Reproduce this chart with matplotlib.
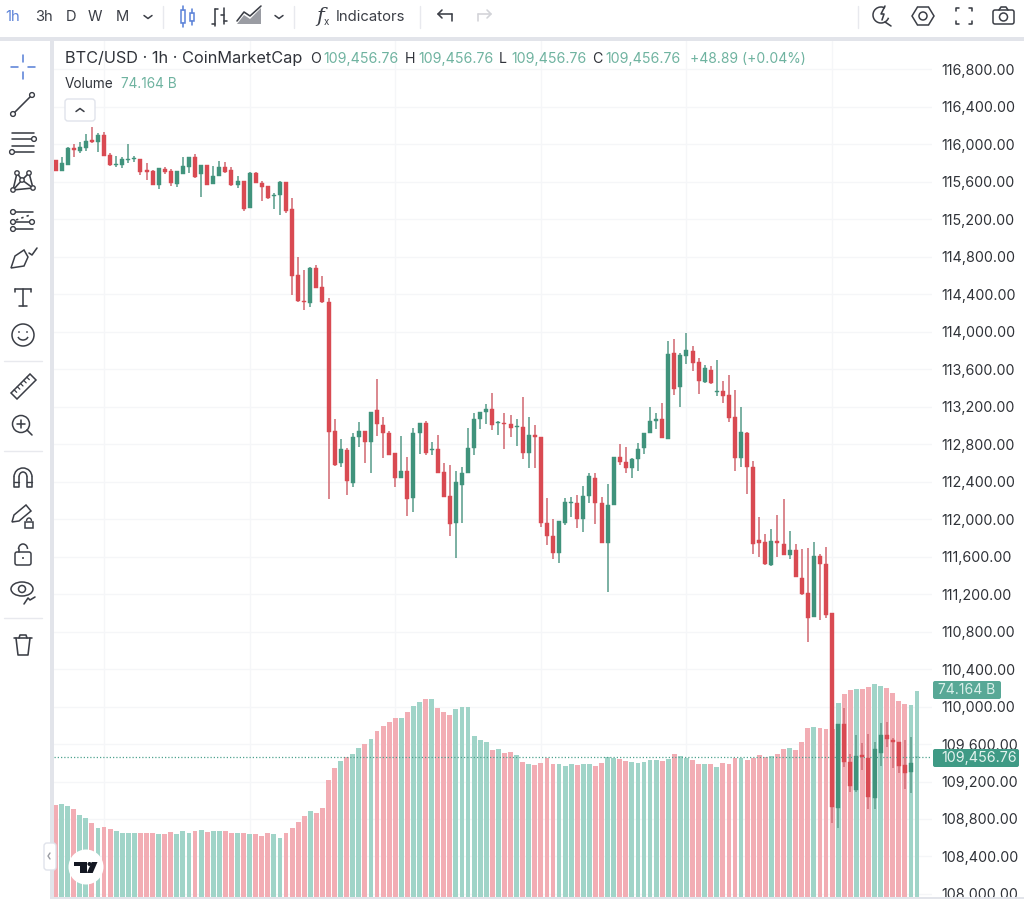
import numpy as np
import matplotlib
matplotlib.use('Agg')
from matplotlib import pyplot as plt
from matplotlib.patches import Circle, Ellipse, Polygon, FancyBboxPatch, Rectangle, Arc
from matplotlib.transforms import Affine2D, blended_transform_factory

plt.rcParams['font.family'] = ['Inter', 'DejaVu Sans']

# candles (1h bars)
opens = [115830,115716,115776,115954,115929,115954,116043,116025,116096,115883,
         115773,115776,115830,115840,115840,115723,115712,115566,115737,115709,
         115577,115684,115751,115865,115680,115776,115574,115659,115758,115719,
         115559,115602,115321,115694,115588,115556,115442,115460,115595,115303,
         114603,114329,114308,114677,114471,114315,112935,112594,112736,112381,
         112871,112939,112821,113163,113006,112914,112701,112437,112509,112228,
         112921,113024,112740,112750,112505,112242,111954,112359,112491,112757,
         113067,113142,113170,113024,113028,113014,112978,112985,112701,112900,
         112875,111961,111819,111641,111954,112171,112171,111997,112245,112437,
         112174,111748,112149,112665,112612,112541,112637,112754,112914,113046,
         113063,112850,113767,113412,113743,113796,113671,113465,113593,113355,
         113366,113319,113085,112647,112921,112555,111780,111755,111509,111769,
         111737,111612,111673,111371,111207,110958,111605,111520,111001,108921,
         109810,109404,109109,109479,109450,109020,109507,109696,109642,109621,
         109372,109305,109456.76]
highs = [115830,115858,115965,115997,116018,116107,116185,116121,116128,115901,
         115872,115858,115997,115872,115840,115794,115723,115741,115758,115730,
         115709,115858,115865,115894,115776,115776,115769,115819,115812,115751,
         115662,115602,115705,115702,115602,115556,115474,115609,115595,115421,
         114791,114656,114685,114706,114592,114354,113063,112850,112754,112914,
         113038,112939,113142,113497,113092,112942,112701,112885,112658,112967,
         113024,113049,112818,112896,112594,112573,112516,112551,112967,113134,
         113142,113227,113341,113046,113127,113113,113063,113298,113092,113003,
         112875,112221,111997,111975,112221,112231,112260,112356,112494,112494,
         112231,112370,112665,112797,112765,112647,112807,112914,113191,113127,
         113234,113895,113917,113767,113981,113846,113714,113643,113632,113696,
         113472,113533,113380,113191,112928,112622,112018,111840,111893,112043,
         112210,111868,111730,111676,111694,111758,111623,111705,111001,109813,
         109980,109493,109696,109607,109706,109625,109820,109831,109660,109621,
         109642,109671,109456.76]
lows = [115716,115716,115776,115858,115901,115929,116015,115918,115876,115769,
        115751,115748,115794,115805,115670,115616,115559,115517,115677,115552,
        115545,115684,115687,115634,115431,115559,115574,115659,115687,115552,
        115534,115289,115321,115584,115392,115414,115307,115243,115261,114389,
        114315,114229,114265,114461,114308,112210,112569,112551,112256,112345,
        112765,112594,112494,112885,112647,112679,112345,112437,112032,112078,
        112693,112683,112683,112487,112235,111822,111580,111961,112491,112686,
        112960,113014,112949,112896,112747,112878,112779,112637,112541,112541,
        111911,111723,111577,111527,111932,112025,111901,111858,112174,111947,
        111741,111225,112149,112576,112487,112437,112509,112690,112914,112957,
        112861,112850,113326,113198,113654,113582,113334,113454,113440,113312,
        113241,113038,112512,112555,112267,111627,111598,111509,111502,111598,
        111612,111570,111381,111193,110691,110951,110923,110947,108761,108704,
        109358,109091,109091,109322,108903,108903,109369,109564,109347,109287,
        109120,109074,109456.76]
closes = [115716,115794,115954,115936,115965,116036,116022,116093,115876,115776,
          115787,115837,115844,115851,115705,115705,115566,115741,115698,115581,
          115709,115769,115865,115652,115776,115566,115662,115758,115705,115566,
          115606,115307,115687,115584,115542,115424,115456,115595,115286,114592,
          114322,114315,114674,114468,114315,112928,112576,112747,112402,112878,
          112942,112821,113142,113014,112914,112686,112437,112509,112213,112914,
          113024,112708,112750,112494,112235,111950,112391,112491,112754,113067,
          113142,113170,113006,113035,113017,112974,112989,112708,112896,112875,
          111954,111815,111641,111975,112185,112181,112000,112242,112459,112174,
          111744,112146,112665,112605,112548,112637,112743,112914,113042,113067,
          112868,113764,113383,113753,113799,113661,113469,113614,113451,113362,
          113312,113077,112647,112928,112555,111737,111748,111516,111765,111748,
          111620,111669,111381,111200,110944,111605,111516,110980,108931,109813,
          109408,109152,109472,109465,109038,109546,109696,109650,109621,109369,
          109294,109394,109456.76]
# volume, billions
volumes = [33.2,33.4,32.9,31.8,29.5,28.6,26.6,25.0,25.2,24.5,
           23.8,23.0,23.0,23.2,23.0,23.0,23.0,22.7,22.7,23.5,
           22.8,23.8,22.9,23.6,24.1,23.3,23.8,23.8,23.8,22.9,
           23.0,23.0,22.6,22.6,22.0,22.9,22.7,21.2,22.9,25.0,
           27.1,29.3,31.0,30.2,32.0,42.2,46.4,49.0,50.3,51.4,
           53.5,55.1,56.9,59.8,61.4,63.0,64.6,64.6,66.5,68.9,
           70.1,71.3,71.3,68.0,66.6,65.4,67.7,68.3,68.3,57.8,
           56.5,55.8,53.0,53.3,52.0,52.3,51.1,48.7,47.9,47.6,
           48.4,50.0,48.0,47.8,47.3,48.0,47.5,47.8,47.8,47.3,
           48.1,50.4,50.2,49.8,49.1,48.5,48.1,48.7,49.4,49.4,
           49.0,49.8,51.5,50.8,50.2,49.2,47.8,47.8,47.8,46.9,
           48.4,47.8,50.0,50.2,49.2,50.2,51.2,50.3,50.9,51.5,
           53.3,53.6,52.9,55.7,60.8,61.1,61.0,60.5,60.4,70.0,
           73.0,74.5,75.0,74.9,75.7,76.8,76.1,75.2,73.6,70.7,
           69.5,69.0,74.164]
price_ticks = np.arange(108000, 116801, 400)
day_bars = [8, 32, 56, 80, 104, 128]
last_price = 109456.76

RED, GREEN = '#d94a52', '#40937c'
RED_W, GREEN_W = '#d4737c', '#64a392'
RED_V, GREEN_V = '#f2adb4', '#a0d4c8'
GRID = '#f5f6f8'
INK = '#3b3e46'
BAND = '#e2e4ea'
LEG_G = '#6fb3a0'

fig = plt.figure(figsize=(10.24, 8.99), dpi=100)
W, H = 1024, 899
# chart area in pixels: x 54..932, y 41..897
ax = fig.add_axes([54 / W, (H - 897) / H, (932 - 54) / W, (897 - 41) / H])
ax.set_xlim((54 - 55.5) / 6.067, (932 - 55.5) / 6.067)
ax.set_ylim(108000 - 3 * 10.667, 116800 + 28 * 10.667)
for s in ax.spines.values():
    s.set_visible(False)

x = np.arange(len(opens))
o, h, l, c = map(np.array, (opens, highs, lows, closes))
up = c >= o

ax.set_yticks(price_ticks)
ax.set_yticklabels(['{:,.2f}'.format(p) for p in price_ticks], color='#2f3238', fontsize=10.3)
ax.yaxis.tick_right()
ax.tick_params(axis='y', length=0, pad=6.8)
ax.set_xticks(day_bars)
ax.tick_params(axis='x', length=0, labelbottom=False)
ax.grid(True, color=GRID, lw=1)
ax.set_axisbelow(True)

# volume sits in the same axes, with its own y scale
vol_top = 856 * 0.36
vol_trans = blended_transform_factory(ax.transData, Affine2D().scale(1, 1 / vol_top) + ax.transAxes)
ax.bar(x, volumes, width=0.8, color=[GREEN_V if u else RED_V for u in up], transform=vol_trans, zorder=1)

ax.axhline(last_price, color='#4fa28f', lw=0.9, ls=(0, (1, 1.6)), zorder=1.5)

ax.vlines(x, l, h, colors=[GREEN_W if u else RED_W for u in up], lw=1.2, zorder=2)
ax.bar(x, np.abs(c - o), bottom=np.minimum(o, c), width=0.66,
       color=[GREEN if u else RED for u in up], edgecolor=[GREEN if u else RED for u in up], lw=0.3, zorder=3)
ax.set_ylim(108000 - 3 * 10.667, 116800 + 28 * 10.667)

# overlay in pixel coordinates: toolbars, legend, price tags
ov = fig.add_axes([0, 0, 1, 1], zorder=5)
ov.set_xlim(0, W)
ov.set_ylim(H, 0)
ov.axis('off')
ov.patch.set_alpha(0)


def ln(xs, ys, col=INK, lw=1.15, **kw):
    ov.plot(xs, ys, color=col, lw=lw, solid_capstyle='round', solid_joinstyle='round', **kw)


def dot(cx, cy, r=2.4, col=INK, lw=1.0):
    ov.add_patch(Circle((cx, cy), r, fc='white', ec=col, lw=lw, zorder=6))


def chev(cx, cy, up_=False, col=INK):
    d = -3 if up_ else 3
    ln([cx - 4, cx, cx + 4], [cy - d / 2, cy + d / 2, cy - d / 2], col=col, lw=1.1)


# bands
ov.add_patch(Rectangle((0, 37), W, 4, fc=BAND, ec='none'))
ov.add_patch(Rectangle((50, 41), 4, H, fc=BAND, ec='none'))
ov.add_patch(Rectangle((54, 897), W, 2, fc=BAND, ec='none'))

# top toolbar
for t, tx, col in [('1h', 5, '#5b82d8'), ('3h', 35, INK), ('D', 66, INK), ('W', 88, INK), ('M', 116, INK)]:
    ov.text(tx, 17, t, color=col, fontsize=10.6, va='center', ha='left')
chev(148, 17)
for sx in [163, 294, 420, 858]:
    ln([sx, sx], [6, 28], col='#e8e9ee', lw=1)
# candle style icons
BLUE = '#5b82d8'
for cx, y0, y1, b0, b1 in [(183, 6, 27, 10, 23), (192, 9, 25, 13, 21)]:
    ln([cx, cx], [y0, b0], col=BLUE)
    ln([cx, cx], [b1, y1], col=BLUE)
    ov.add_patch(Rectangle((cx - 2, b0), 4, b1 - b0, fc='white', ec=BLUE, lw=1.1))
ln([215, 215], [9, 26])
ln([212, 215], [24, 24])
ln([215, 218], [9, 9])
ln([224, 224], [8, 24])
ln([221, 224], [15, 15])
ln([224, 227], [21, 21])
ov.add_patch(Polygon([(237, 24), (244, 15), (250, 19), (261, 8), (261, 24)], fc='#9a9ca3', ec='none'))
ln([237, 244, 250, 261], [21, 12, 16, 6], col=INK)
chev(279, 17)
ov.text(320, 16, 'f', color=INK, fontsize=15, style='italic', ha='center', va='center', family='DejaVu Serif')
ov.text(326, 22, 'x', color=INK, fontsize=7, ha='center', va='center')
ov.text(336, 17, 'Indicators', color=INK, fontsize=10.7, va='center', ha='left')
ln([438, 452], [14, 14])
ln([452, 452], [14, 21])
ln([442, 438, 442], [10, 14, 18])
ln([491, 478], [14, 14], col='#d2d3d8')
ln([478, 478], [14, 21], col='#d2d3d8')
ln([487, 491, 487], [10, 14, 18], col='#d2d3d8')
# right icons
ov.add_patch(Arc((881, 15), 16, 16, theta1=20, theta2=300, ec=INK, lw=1.1))
ln([885, 891], [22, 26])
ln([885, 881, 884, 882], [6, 14, 14, 20])
hexa = [(912, 16), (917.5, 7), (928.5, 7), (934, 16), (928.5, 25), (917.5, 25)]
ov.add_patch(Polygon(hexa, fc='none', ec=INK, lw=1.1))
dot(923, 16, 4, lw=1.1)
for sx, sy in [(-1, -1), (1, -1), (-1, 1), (1, 1)]:
    cx, cy = 964 + sx * 8, 16 + sy * 8
    ln([cx - sx * 3, cx, cx], [cy, cy, cy - sy * 3])
ov.add_patch(FancyBboxPatch((993, 10), 21, 14, boxstyle='round,pad=0,rounding_size=2', fc='white', ec=INK, lw=1.1))
ln([999, 1001, 1006, 1008], [10, 7, 7, 10])
dot(1003.5, 17, 4, lw=1.1)

# left toolbar
ln([23, 23], [55, 62], col=BLUE)
ln([23, 23], [72, 79], col=BLUE)
ln([11, 18], [67, 67], col=BLUE)
ln([28, 35], [67, 67], col=BLUE)
ln([13, 32], [114, 95])
dot(13, 114)
dot(32, 95)
ln([12, 34], [133, 133])
ln([12, 34], [139, 139])
dot(34, 139)
ln([12, 34], [146, 146])
ln([12, 34], [152, 152])
dot(12, 152)
pts = [(13, 190), (17, 173), (22, 180), (29, 173), (33, 188)]
ln([p[0] for p in pts] + [13], [p[1] for p in pts] + [190])
ln([22, 33], [180, 188])
ln([22, 13], [180, 190])
for p in pts:
    dot(p[0], p[1], 2.2)
ln([13, 33], [212, 212])
dot(13, 212)
ln([16, 30], [220, 215], ls=(0, (1.5, 2)))
ln([13, 32], [222, 222])
dot(13, 222)
dot(32, 222)
ln([13, 33], [229, 229])
dot(13, 229)
ov.add_patch(Polygon([(11, 268), (15, 256), (24, 250), (28, 257), (24, 266)], fc='white', ec=INK, lw=1.1))
ln([29, 32, 37], [253, 255, 248])
ln([15, 31], [289, 289])
ln([15, 15], [289, 292])
ln([31, 31], [289, 292])
ln([23, 23], [289, 306])
ln([19, 27], [306, 306])
ov.add_patch(Circle((23, 335), 11, fc='none', ec=INK, lw=1.1))
ov.add_patch(Circle((19, 332), 0.9, fc=INK, ec='none'))
ov.add_patch(Circle((27, 332), 0.9, fc=INK, ec='none'))
ov.add_patch(Arc((23, 336), 10, 8, theta1=10, theta2=170, ec=INK, lw=1.1))
for sy in [361, 451, 618]:
    ln([4, 42], [sy, sy], col='#e8e9ee', lw=1)
ov.add_patch(Polygon([(11, 393), (30, 374), (36, 380), (17, 399)], fc='none', ec=INK, lw=1.1))
for k in range(1, 6):
    bx, by = 11 + k * 19 / 6, 393 - k * 19 / 6
    ln([bx, bx + 2.5], [by, by + 2.5], lw=0.9)
ov.add_patch(Circle((21, 424), 8.5, fc='none', ec=INK, lw=1.1))
ln([17, 25], [424, 424])
ln([21, 21], [420, 428])
ln([27, 32], [430, 435])
# magnet, outline only
ov.add_patch(Arc((23, 477), 18, 18, theta1=180, theta2=360, ec=INK, lw=1.1))
ov.add_patch(Arc((23, 477), 8, 10, theta1=180, theta2=360, ec=INK, lw=1.1))
ln([14, 14, 19, 19], [477, 487, 487, 477])
ln([27, 27, 32, 32], [477, 487, 487, 477])
ln([14, 19], [482, 482], lw=1)
ln([27, 32], [482, 482], lw=1)
ov.add_patch(Polygon([(12, 522), (14, 515), (26, 505), (31, 511), (19, 521)], fc='none', ec=INK, lw=1.1))
ov.add_patch(Rectangle((25, 522), 8, 6, fc='white', ec=INK, lw=1.1))
ov.add_patch(Arc((29, 521), 5, 6, theta1=180, theta2=360, ec=INK, lw=1))
ov.add_patch(FancyBboxPatch((15, 552), 16, 13, boxstyle='round,pad=0,rounding_size=2', fc='none', ec=INK, lw=1.1))
ov.add_patch(Arc((23, 549), 9, 10, theta1=180, theta2=360, ec=INK, lw=1.1))
ln([18.5, 18.5], [549, 552])
ov.add_patch(Circle((23, 558), 1, fc=INK, ec='none'))
ov.add_patch(Ellipse((22, 589), 22, 14, fc='none', ec=INK, lw=1.1))
ov.add_patch(Circle((22, 589), 3.5, fc='none', ec=INK, lw=1.1))
ln([24, 28, 30, 35], [604, 598, 600, 597])
ln([14, 32], [638, 638])
ln([19, 20, 26, 27], [638, 635, 635, 638])
ln([16, 18, 28, 30], [638, 655, 655, 638])

# legend
ov.text(65, 59, 'BTC/USD · 1h · CoinMarketCap', color='#30333a', fontsize=11.75, va='center', ha='left')
for lab, lx in [('O', 310), ('H', 405), ('L', 499), ('C', 592)]:
    ov.text(lx, 59, lab, color='#30333a', fontsize=10.2, va='center', ha='left')
    ov.text(lx + (12 if lab == 'L' else 13), 59, '109,456.76', color=LEG_G, fontsize=10.2, va='center', ha='left')
ov.text(690, 59, '+48.89 (+0.04%)', color=LEG_G, fontsize=10, va='center', ha='left')
ov.text(65, 84, 'Volume', color='#30333a', fontsize=9.8, va='center', ha='left')
ov.text(121, 84, '74.164 B', color=LEG_G, fontsize=9.8, va='center', ha='left')
ov.add_patch(FancyBboxPatch((65, 99), 30, 22, boxstyle='round,pad=0,rounding_size=3', fc='white', ec='#e0e3eb', lw=1))
chev(80, 110, up_=True)

# price tags
ov.add_patch(FancyBboxPatch((933, 681), 68, 18, boxstyle='round,pad=0,rounding_size=2', fc='#58a896', ec='none'))
ov.text(967, 690, '74.164 B', color='#d9efe9', fontsize=10, ha='center', va='center')
ov.add_patch(FancyBboxPatch((933, 749), 86, 18, boxstyle='round,pad=0,rounding_size=2', fc='#3f9a85', ec='none'))
ov.text(979, 758, '{:,.2f}'.format(last_price), color='#e3f2ee', fontsize=10.3, ha='center', va='center')

# logo and collapse tab
ov.add_patch(FancyBboxPatch((44, 843), 12, 27, boxstyle='round,pad=0,rounding_size=3', fc='white', ec='#e0e3eb', lw=1))
ln([50, 48, 50], [853, 856, 859], col='#9a9ca3', lw=1)
ov.add_patch(Circle((86, 867), 17.5, fc='white', ec='none'))
ov.add_patch(Polygon([(74.3, 862), (86.7, 862), (86.7, 873), (80, 873), (80, 866.3), (74.3, 866.3)], fc='#131722', ec='none'))
ov.add_patch(Polygon([(91.7, 862), (97.5, 862), (92.7, 873), (86.9, 873)], fc='#131722', ec='none'))
ov.add_patch(Circle((89.5, 864), 2, fc='#131722', ec='none'))

fig.savefig('out.png', dpi=100)
